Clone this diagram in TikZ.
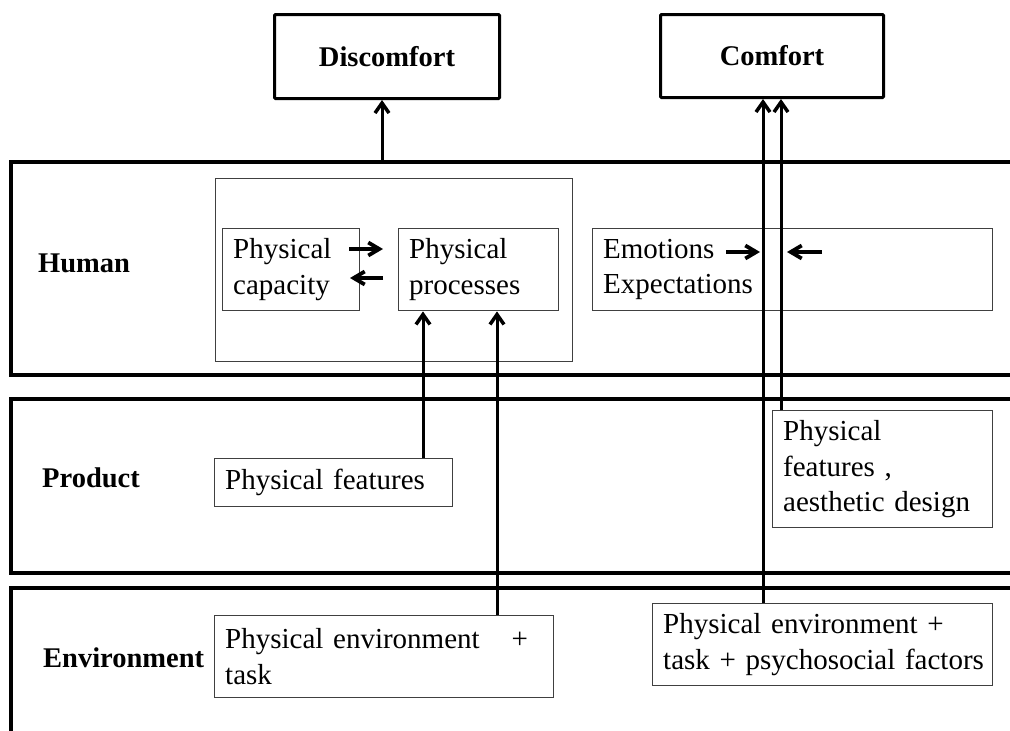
\documentclass[tikz,border=0pt]{standalone}
\usepackage{fontspec}
\setmainfont{Liberation Serif}
\usetikzlibrary{arrows.meta}
\tikzset{
  band/.style={line width=3.2pt},
  outbox/.style={draw, line width=3pt, rounded corners=1pt, anchor=north west, inner sep=0pt,
    font=\fontsize{28.5}{34}\selectfont\bfseries},
  inbox/.style={draw=black!75, line width=1.4pt, anchor=north west, align=left,
    inner xsep=10.5pt, inner ysep=0pt, font=\fontsize{29}{35.5}\selectfont},
  frame/.style={draw=black!75, line width=1.4pt, anchor=north west, inner sep=0pt},
  arr/.style={line width=3pt, -{Straight Barb[length=10pt,width=14pt,line width=3.5pt]}},
  sarr/.style={line width=3.4pt, -{Straight Barb[length=11pt,width=13pt,line width=3.8pt]}},
  lab/.style={font=\fontsize{28.5}{34}\selectfont\bfseries, anchor=base west, inner sep=0pt}
}
\begin{document}
\begin{tikzpicture}[x=1pt,y=-1pt]
\useasboundingbox[fill=white] (0,0) rectangle (1010,731);

% bands
\draw[band] (1015,162) -| (11,375) -- (1015,375);
\draw[band] (1015,399) -| (11,573) -- (1015,573);
\draw[band] (1015,588) -| (11,740);

% band labels
\node[lab] (human) at (38,272) {Human};
\node[lab] (product) at (42,487) {Product};
\node[lab] (envlab) at (43,667) {Environment};

% outcome boxes
\node[outbox, minimum width=225pt, minimum height=84pt] (disc) at (273,13) {Discomfort};
\node[outbox, minimum width=223pt, minimum height=83pt] (comf) at (659,13) {Comfort};

% human boxes
\node[frame, minimum width=357pt, minimum height=183pt] (frm) at (215,178) {};
\node[inbox, text width=116pt, minimum height=82pt] (cap) at (222,228) {\mbox{Physical}\\\mbox{capacity}};
\node[inbox, text width=139pt, minimum height=82pt] (proc) at (398,228) {\mbox{Physical}\\\mbox{processes}};
\node[inbox, text width=379pt, minimum height=82pt] (emo) at (592,228) {\mbox{Emotions}\\\mbox{Expectations}};

% product boxes
\node[inbox, text width=217pt, minimum height=48pt] (pf) at (214,458) {\mbox{Physical features}};
\node[inbox, text width=199pt, minimum height=117pt] (aest) at (772,410) {\mbox{Physical}\\\mbox{features ,}\\\mbox{aesthetic design}};

% environment boxes
\node[inbox, text width=318pt, minimum height=82pt] (envL) at (214,615) {\mbox{Physical environment\hspace{32pt}+}\\\mbox{task}};
\node[inbox, text width=319pt, minimum height=82pt] (envR) at (652,603) {\mbox{Physical environment +}\\\mbox{task + psychosocial factors}};

% connector coordinates
\coordinate (htop) at (382,162);
\coordinate (c1) at (763,0);
\coordinate (c2) at (781,0);
\coordinate (p1) at (423,0);
\coordinate (p2) at (497,0);

\draw[arr] (htop) -- (htop |- disc.south);
\draw[arr] (envR.north -| c1) -- (comf.south -| c1);
\draw[arr] (aest.north -| c2) -- (comf.south -| c2);
\draw[arr] (pf.north -| p1) -- (proc.south -| p1);
\draw[arr] (envL.north -| p2) -- (proc.south -| p2);

% small arrows
\coordinate (ca1) at (349,249); \coordinate (ca2) at (383,249);
\coordinate (cb1) at (383,278); \coordinate (cb2) at (350,278);
\coordinate (ea1) at (726,252); \coordinate (ea2) at (760,252);
\coordinate (eb1) at (822,252); \coordinate (eb2) at (787,252);
\draw[sarr] (ca1) -- (ca2);
\draw[sarr] (cb1) -- (cb2);
\draw[sarr] (ea1) -- (ea2);
\draw[sarr] (eb1) -- (eb2);
\end{tikzpicture}
\end{document}
